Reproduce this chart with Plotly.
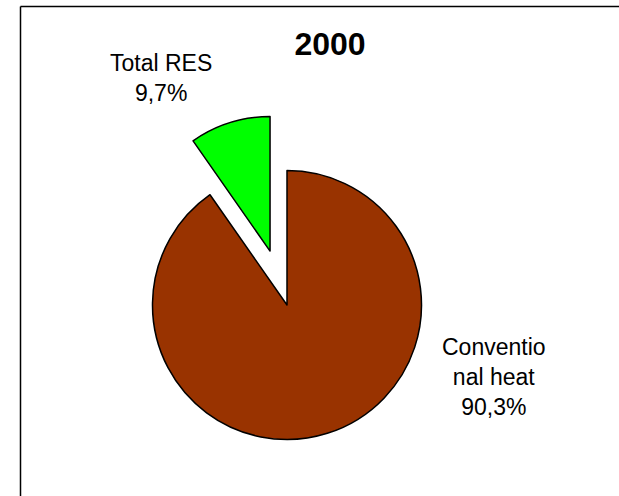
import plotly.graph_objects as go

# Data
labels = ["Conventio<br>nal heat", "Total RES"]
values = [90.3, 9.7]
colors = ["#993300", "#00FF00"]
pulls = [0.0, 0.42]
title_text = "2000"

W, H = 619, 496

def fmt(v):
    return f"{v:.1f}".replace(".", ",") + "%"

fig = go.Figure()
fig.add_trace(go.Pie(
    labels=labels,
    values=values,
    sort=False,
    direction="clockwise",
    rotation=0,
    pull=pulls,
    marker=dict(colors=colors, line=dict(color="black", width=1.5)),
    textinfo="none",
    hoverinfo="label+percent",
    showlegend=False,
    domain=dict(x=[(287 - 191) / W, (287 + 191) / W], y=[0.0, 1 - 114 / H]),
))

label_pos = [(494, 377), (161, 78)]
for lab, v, (px, py) in zip(labels, values, label_pos):
    fig.add_annotation(
        text=f"{lab}<br>{fmt(v)}",
        x=px / W, y=1 - py / H, xref="paper", yref="paper",
        xanchor="center", yanchor="middle", showarrow=False,
        font=dict(family="Liberation Sans, Arial", size=23, color="black"),
        align="center",
    )

# chart-area border (only top and left edges are visible in the crop)
bx, by = 20.5 / W, 1 - 6.5 / H
fig.add_shape(type="line", xref="paper", yref="paper",
              x0=bx, x1=1.0, y0=by, y1=by, line=dict(color="black", width=1.5))
fig.add_shape(type="line", xref="paper", yref="paper",
              x0=bx, x1=bx, y0=0.0, y1=by, line=dict(color="black", width=1.5))

fig.update_layout(
    width=W, height=H,
    margin=dict(l=0, r=0, t=0, b=0),
    paper_bgcolor="white", plot_bgcolor="white",
    title=dict(text=f"<b>{title_text}</b>", x=330 / W, y=1 - 44 / H,
               xanchor="center", yanchor="middle",
               font=dict(family="Liberation Sans, Arial", size=32, color="black")),
)

fig.write_html(
    "out.html", config={"displayModeBar": False},
    post_script=("document.body.style.margin='0';"
                 "document.body.style.overflow='hidden';"
                 "document.documentElement.style.overflow='hidden';"),
)
